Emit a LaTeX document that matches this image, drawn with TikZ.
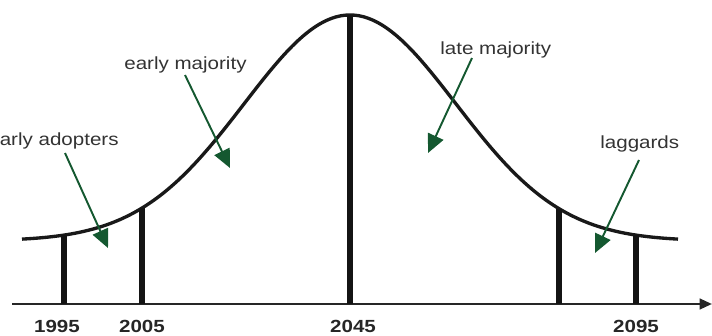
\documentclass[tikz,border=0pt]{standalone}
\usepackage{fontspec}
\setmainfont{Liberation Sans}
\newfontfamily\labelfont[FakeStretch=1.17]{Liberation Sans}
\usepackage{xcolor}
\usetikzlibrary{arrows.meta,calc}
\definecolor{arrowgreen}{RGB}{20,88,48}

\begin{document}
\begin{tikzpicture}[
  x=0.02cm, y=0.02cm,
  declare function={bell(\t)=94+226*exp(-((\t-350)/106)^2/2);},
  curve/.style={line width=1.9pt, black!90},
  bar/.style={line width=3.4pt, black!92},
  axisline/.style={-{Triangle[length=7pt,width=6pt]}, line width=1.4pt, black!85},
  pointer/.style={-{Triangle[length=10.5pt,width=9.5pt]}, line width=1.1pt, arrowgreen},
  tag/.style={font=\labelfont\fontsize{10}{12}\selectfont, text=black!80,
              inner sep=0pt, anchor=base west},
  year/.style={font=\labelfont\fontsize{10}{12}\selectfont\bfseries,
               text=black!85, inner sep=0pt, anchor=base},
]
\useasboundingbox (0,0) rectangle (712,335);

% ================= time axis and the bell curve =================
\coordinate (ax-start) at (12,31);
\coordinate (ax-end)   at (712,31);
\draw[axisline] (ax-start) -- (ax-end);

\draw[curve] plot[domain=22:678, samples=120, smooth] (\x,{bell(\x)});

% segment borders, from the axis up to the curve
\foreach \bx [count=\i] in {64,142,350,559,636} {
  \coordinate (foot\i) at (\bx,31);
  \coordinate (top\i)  at (\bx,{bell(\bx)});
  \draw[bar] (foot\i) -- (top\i);
}

% years under the axis
\foreach \lx/\yr in {57/1995, 142/2005, 353/2045, 636/2095}
  \node[year] (y\yr) at (\lx,3) {\yr};

% ================= adopter groups =================
\node[tag] (adopt) at (-12,190) {early adopters};
\node[tag] (emaj)  at (124,265) {early majority};
\node[tag] (lmaj)  at (440,280) {late majority};
\node[tag] (lagg)  at (600,187) {laggards};

\coordinate (adopt-from) at (65,182);  \coordinate (adopt-tip) at (108,87);
\coordinate (emaj-from)  at (185,260); \coordinate (emaj-tip)  at (230,167);
\coordinate (lmaj-from)  at (472,277); \coordinate (lmaj-tip)  at (428,182);
\coordinate (lagg-from)  at (639,175); \coordinate (lagg-tip)  at (595,82);

\foreach \g in {adopt, emaj, lmaj, lagg}
  \draw[pointer] (\g-from) -- (\g-tip);

\end{tikzpicture}
\end{document}
